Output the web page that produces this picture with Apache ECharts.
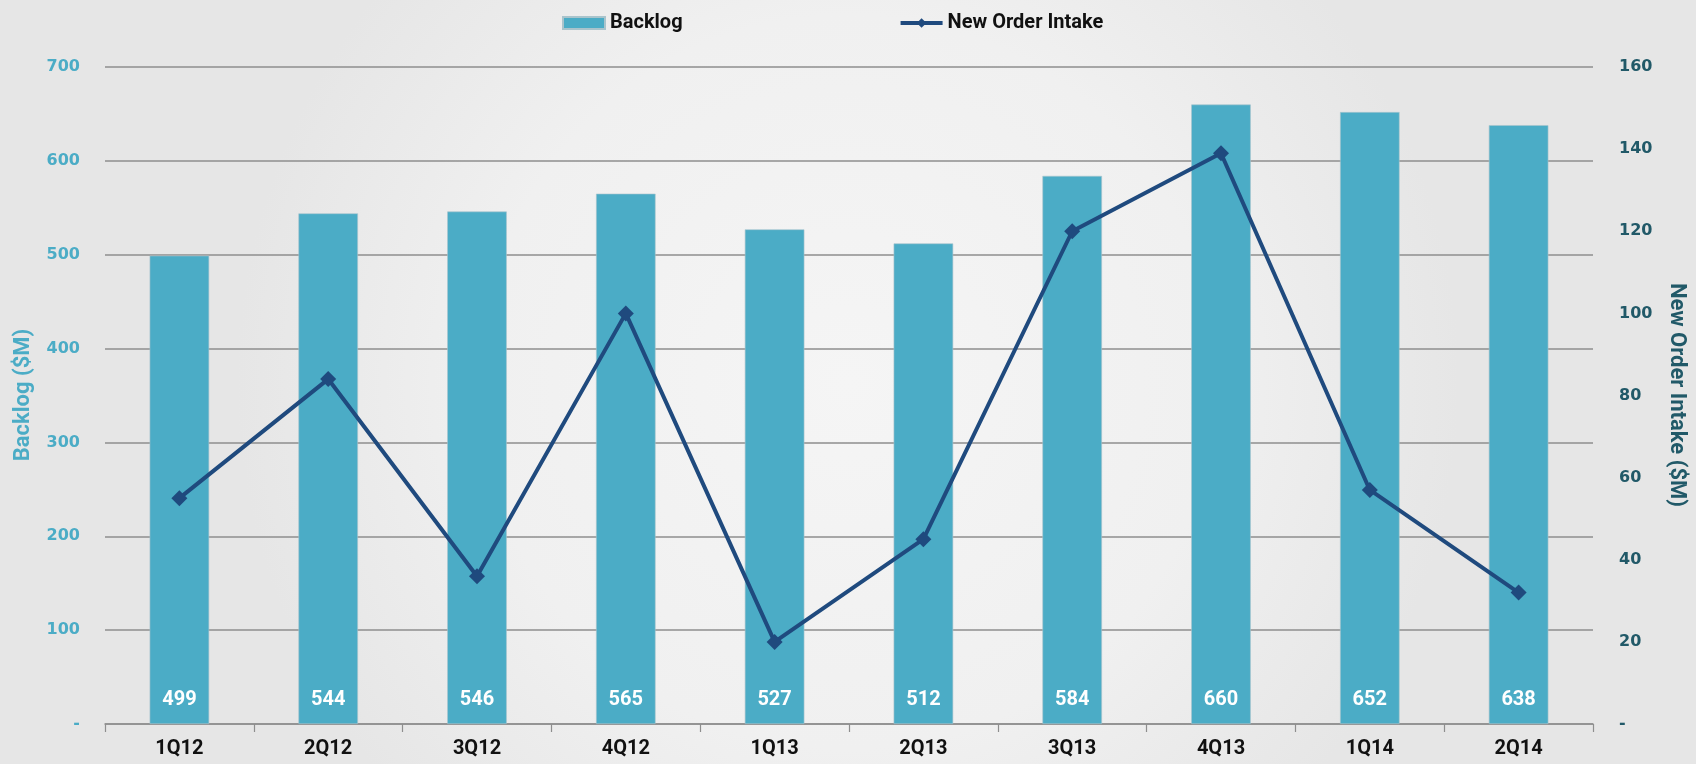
<!DOCTYPE html>
<html>
<head>
<meta charset="utf-8">
<title>Backlog and New Order Intake</title>
<script src="https://cdn.jsdelivr.net/npm/echarts@6/dist/echarts.min.js"></script>
<style>
  html, body { margin: 0; padding: 0; }
  #chart { width: 1696px; height: 764px; }
</style>
</head>
<body>
<div id="chart"></div>
<script>
// Quarterly categories
const quarters = ['1Q12', '2Q12', '3Q12', '4Q12', '1Q13', '2Q13', '3Q13', '4Q13', '1Q14', '2Q14'];
// Backlog in $M (left axis)
const backlog = [499, 544, 546, 565, 527, 512, 584, 660, 652, 638];
// New order intake in $M (right axis)
const newOrderIntake = [55, 84, 36, 100, 20, 45, 120, 139, 57, 32];
// Axis ranges
const backlogAxis = { min: 0, max: 700, interval: 100 };
const intakeAxis = { min: 0, max: 160, interval: 20 };

const BAR = '#4BACC6';
const LINE = '#1F4A7E';
const RIGHT_TXT = '#215968';
const GRID = '#8E8E8E';
const NUM_FONT = '"DejaVu Sans", Verdana, sans-serif';
const TXT_FONT = 'Roboto, "Open Sans", sans-serif';

const dash = v => (v === 0 ? '-' : String(v));

const chart = echarts.init(document.getElementById('chart'), null, { renderer: 'canvas' });

chart.setOption({
  backgroundColor: {
    type: 'radial', x: 0.5, y: 0.5, r: 0.8,
    colorStops: [
      { offset: 0, color: '#F5F5F5' },
      { offset: 0.6, color: '#F0F0F0' },
      { offset: 1, color: '#E6E6E6' }
    ]
  },
  animation: false,
  legend: {
    top: 8,
    left: 557,
    itemGap: 216,
    itemWidth: 42,
    itemHeight: 12,
    textStyle: { fontFamily: TXT_FONT, fontWeight: 'bold', fontSize: 20, color: '#111' },
    data: [
      { name: 'Backlog', icon: 'rect' },
      { name: 'New Order Intake', lineStyle: { width: 4 } }
    ]
  },
  grid: { left: 105, right: 103, top: 67, bottom: 40, containLabel: false },
  xAxis: {
    type: 'category',
    data: quarters,
    boundaryGap: true,
    axisLine: { show: true, lineStyle: { color: GRID, width: 1.5 } },
    axisTick: { show: true, length: 8, lineStyle: { color: GRID, width: 1.2 } },
    axisLabel: {
      margin: 15,
      fontFamily: TXT_FONT, fontWeight: 'bold', fontSize: 20, color: '#111'
    }
  },
  yAxis: [
    {
      type: 'value',
      min: backlogAxis.min, max: backlogAxis.max, interval: backlogAxis.interval,
      axisLine: { show: false },
      axisTick: { show: false },
      splitLine: { show: true, lineStyle: { color: GRID, width: 1.5 } },
      axisLabel: {
        margin: 25, formatter: dash,
        fontFamily: NUM_FONT, fontWeight: 'bold', fontSize: 16, color: BAR
      }
    },
    {
      type: 'value',
      min: intakeAxis.min, max: intakeAxis.max, interval: intakeAxis.interval,
      position: 'right',
      axisLine: { show: false },
      axisTick: { show: false },
      splitLine: { show: false },
      axisLabel: {
        margin: 26, formatter: dash,
        fontFamily: NUM_FONT, fontWeight: 'bold', fontSize: 16, color: RIGHT_TXT
      }
    }
  ],
  graphic: [
    {
      type: 'text', x: 23, y: 395, rotation: Math.PI / 2,
      style: {
        text: 'Backlog ($M)', fill: BAR,
        font: 'bold 22px ' + TXT_FONT, align: 'center', verticalAlign: 'middle'
      }
    },
    {
      type: 'text', x: 1676, y: 395, rotation: -Math.PI / 2,
      style: {
        text: 'New Order Intake ($M)', fill: RIGHT_TXT,
        font: 'bold 22px ' + TXT_FONT, align: 'center', verticalAlign: 'middle'
      }
    }
  ],
  series: [
    {
      name: 'Backlog',
      type: 'bar',
      yAxisIndex: 0,
      data: backlog,
      barWidth: '40%',
      itemStyle: { color: BAR, borderColor: '#A9C4CC', borderWidth: 0.6 },
      label: {
        show: true, position: 'insideBottom', distance: 14,
        fontFamily: TXT_FONT, fontWeight: 'bold', fontSize: 20, color: '#fff'
      },
      z: 2
    },
    {
      name: 'New Order Intake',
      type: 'line',
      yAxisIndex: 1,
      data: newOrderIntake,
      symbol: 'diamond',
      symbolSize: 16,
      lineStyle: { color: LINE, width: 4 },
      itemStyle: { color: LINE },
      z: 3
    }
  ]
});
</script>
</body>
</html>
